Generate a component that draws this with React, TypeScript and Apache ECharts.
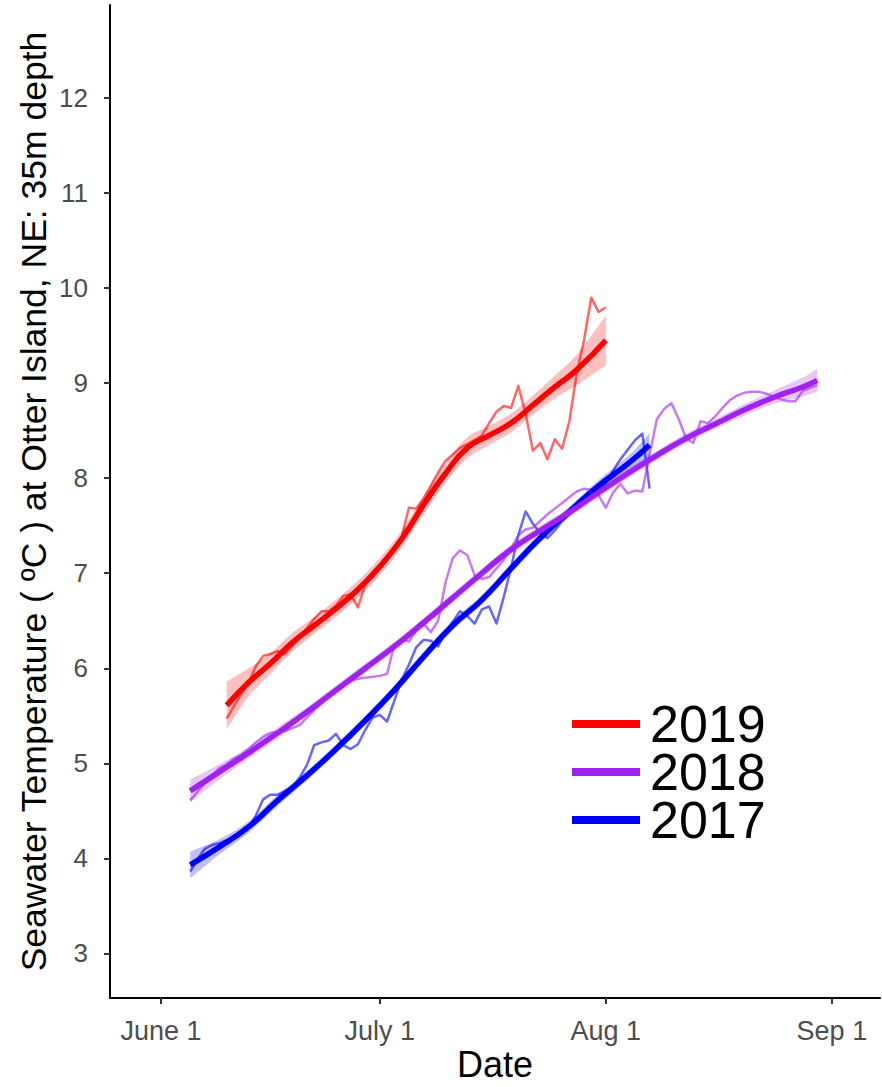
import React, { useEffect, useRef } from 'react';
import * as echarts from 'echarts';

// Day offsets are counted from June 1.
const tickDays = [0, 30, 61, 92];
const tickLabels = ['June 1', 'July 1', 'Aug 1', 'Sep 1'];
const tempTicks = [3, 4, 5, 6, 7, 8, 9, 10, 11, 12];

const years = ['2019', '2018', '2017'];
const yearColors = ['#FF0000', '#A020F0', '#0000FF'];

// Daily mean temperatures (first value is on the start day)
const raw2019Start = 9;
const raw2019 = [5.47, 5.60, 5.73, 5.85, 6.02, 6.13, 6.15, 6.18, 6.15, 6.24, 6.33, 6.42, 6.52, 6.60, 6.60, 6.66, 6.76, 6.78, 6.64, 6.88, 6.98, 7.08, 7.18, 7.28, 7.38, 7.69, 7.68, 7.78, 7.92, 8.06, 8.18, 8.25, 8.32, 8.36, 8.40, 8.45, 8.58, 8.70, 8.76, 8.74, 8.97, 8.68, 8.29, 8.37, 8.20, 8.41, 8.31, 8.60, 9.10, 9.45, 9.90, 9.75, 9.80];

const raw2018Start = 4;
const raw2018 = [4.61, 4.70, 4.79, 4.87, 4.95, 4.99, 5.05, 5.09, 5.15, 5.22, 5.28, 5.32, 5.33, 5.34, 5.37, 5.40, 5.48, 5.56, 5.63, 5.71, 5.76, 5.83, 5.87, 5.89, 5.90, 5.91, 5.92, 5.94, 6.25, 6.30, 6.28, 6.40, 6.47, 6.38, 6.50, 6.90, 7.16, 7.24, 7.19, 6.98, 6.94, 6.96, 7.05, 7.14, 7.26, 7.40, 7.46, 7.48, 7.55, 7.62, 7.68, 7.74, 7.80, 7.86, 7.89, 7.88, 7.82, 7.69, 7.85, 7.94, 7.84, 7.87, 7.86, 8.25, 8.62, 8.73, 8.79, 8.62, 8.42, 8.37, 8.60, 8.58, 8.65, 8.74, 8.82, 8.87, 8.90, 8.91, 8.91, 8.89, 8.86, 8.83, 8.81, 8.81, 8.92, 8.95, 8.98];

const raw2017Start = 4;
const raw2017 = [3.86, 3.99, 4.10, 4.14, 4.16, 4.19, 4.22, 4.26, 4.32, 4.45, 4.62, 4.67, 4.67, 4.71, 4.74, 4.85, 4.98, 5.19, 5.22, 5.24, 5.31, 5.19, 5.15, 5.20, 5.35, 5.48, 5.51, 5.44, 5.66, 5.88, 6.04, 6.22, 6.30, 6.29, 6.23, 6.38, 6.49, 6.60, 6.55, 6.47, 6.62, 6.65, 6.47, 6.75, 7.06, 7.40, 7.65, 7.52, 7.42, 7.37, 7.45, 7.55, 7.62, 7.68, 7.75, 7.80, 7.84, 7.95, 8.08, 8.20, 8.30, 8.40, 8.47, 7.89];

// Smoothed fits with confidence half-widths
const fitDays2019 = [9, 12, 15, 18, 21, 24, 27, 30, 33, 36, 39, 42, 45, 48, 51, 54, 57, 61];
const fit2019 = [5.61, 5.85, 6.05, 6.27, 6.45, 6.63, 6.83, 7.07, 7.36, 7.72, 8.05, 8.32, 8.45, 8.58, 8.77, 8.96, 9.14, 9.45];
const ci2019 = [0.25, 0.15, 0.11, 0.10, 0.09, 0.09, 0.09, 0.09, 0.09, 0.10, 0.10, 0.11, 0.10, 0.10, 0.10, 0.12, 0.16, 0.26];

const fitDays2018 = [4, 8, 12, 16, 20, 24, 28, 32, 36, 40, 44, 48, 52, 56, 60, 64, 68, 72, 76, 80, 84, 88, 90];
const fit2018 = [4.71, 4.91, 5.11, 5.32, 5.54, 5.77, 6.00, 6.23, 6.48, 6.74, 7.00, 7.25, 7.45, 7.64, 7.85, 8.05, 8.24, 8.42, 8.57, 8.72, 8.85, 8.96, 9.03];
const ci2018 = [0.12, 0.08, 0.06, 0.06, 0.05, 0.05, 0.05, 0.05, 0.05, 0.05, 0.05, 0.05, 0.05, 0.05, 0.05, 0.05, 0.05, 0.05, 0.05, 0.06, 0.07, 0.10, 0.12];

const fitDays2017 = [4, 8, 12, 16, 20, 24, 28, 32, 36, 40, 44, 48, 52, 56, 60, 64, 67];
const fit2017 = [3.93, 4.12, 4.33, 4.61, 4.87, 5.15, 5.45, 5.77, 6.12, 6.45, 6.72, 7.05, 7.37, 7.65, 7.92, 8.15, 8.35];
const ci2017 = [0.14, 0.08, 0.06, 0.06, 0.05, 0.05, 0.05, 0.05, 0.05, 0.05, 0.05, 0.05, 0.05, 0.05, 0.06, 0.08, 0.12];

const FONT = '"Liberation Sans", Arial, sans-serif';

function withAlpha(hex: string, a: number) {
  const n = parseInt(hex.slice(1), 16);
  return `rgba(${(n >> 16) & 255},${(n >> 8) & 255},${n & 255},${a})`;
}

// Cubic Bezier segments through pixel points (Catmull-Rom style tangents)
function curveSegments(pts: number[][]) {
  let d = '';
  for (let i = 0; i < pts.length - 1; i++) {
    const p0 = pts[i - 1] || pts[i];
    const p1 = pts[i];
    const p2 = pts[i + 1];
    const p3 = pts[i + 2] || p2;
    const c1x = p1[0] + (p2[0] - p0[0]) / 6;
    const c1y = p1[1] + (p2[1] - p0[1]) / 6;
    const c2x = p2[0] - (p3[0] - p1[0]) / 6;
    const c2y = p2[1] - (p3[1] - p1[1]) / 6;
    d += ` C${c1x},${c1y} ${c2x},${c2y} ${p2[0]},${p2[1]}`;
  }
  return d;
}

function rawSeries(name: string, start: number, values: number[], color: string) {
  return {
    type: 'line',
    name: name + ' daily',
    data: values.map((v, i) => [start + i, v]),
    symbol: 'none',
    silent: true,
    lineStyle: { color: withAlpha(color, 0.6), width: 2.5, cap: 'butt', join: 'round' },
    itemStyle: { color },
  };
}

// Confidence ribbon drawn as one closed path through the axis scales
function bandSeries(name: string, days: number[], fit: number[], ci: number[], color: string) {
  const upper = days.map((d, i) => [d, fit[i] + ci[i]]);
  const lower = days.map((d, i) => [d, fit[i] - ci[i]]);
  return {
    type: 'custom',
    name: name + ' band',
    silent: true,
    data: days.map((d, i) => [d, fit[i] - ci[i], fit[i] + ci[i]]),
    encode: { x: 0, y: [1, 2] },
    renderItem: (params: any, api: any) => {
      if (params.dataIndex !== 0) return { type: 'group', children: [] };
      const top = upper.map((p) => api.coord(p));
      const bottom = lower.map((p) => api.coord(p)).reverse();
      const pathData =
        `M${top[0][0]},${top[0][1]}` +
        curveSegments(top) +
        ` L${bottom[0][0]},${bottom[0][1]}` +
        curveSegments(bottom) +
        ' Z';
      return {
        type: 'path',
        shape: { pathData },
        style: { fill: withAlpha(color, 0.25), stroke: 'none' },
      };
    },
  };
}

function fitSeries(name: string, days: number[], fit: number[], color: string) {
  return {
    type: 'line',
    name,
    data: days.map((d, i) => [d, fit[i]]),
    symbol: 'none',
    smooth: 0.5,
    silent: true,
    color,
    lineStyle: { color, width: 5.5, cap: 'butt' },
    itemStyle: { color },
  };
}

export default function App() {
  const ref = useRef<HTMLDivElement>(null);

  useEffect(() => {
    if (!ref.current) return;
    const chart = echarts.init(ref.current, undefined, { renderer: 'svg' });
    const [c19, c18, c17] = yearColors;

    const option = {
      animation: false,
      backgroundColor: '#ffffff',
      textStyle: { fontFamily: FONT },
      grid: { left: 110, right: 2, top: 5, bottom: 80, containLabel: false },
      legend: {
        orient: 'vertical',
        left: 572,
        top: 698,
        padding: 0,
        icon: 'rect',
        itemWidth: 68,
        itemHeight: 8,
        itemGap: -4,
        selectedMode: false,
        data: years.map((y, i) => ({ name: y, itemStyle: { color: yearColors[i] } })),
        textStyle: { fontSize: 52, color: '#000', fontFamily: FONT, padding: [0, 0, 0, 5] },
      },
      xAxis: {
        type: 'value',
        min: -7.0,
        max: 98.6,
        name: 'Date',
        nameLocation: 'middle',
        nameGap: 48,
        nameMoveOverlap: false,
        nameTextStyle: { fontSize: 36, color: '#000', fontFamily: FONT },
        splitLine: { show: false },
        axisLine: { show: true, onZero: false, lineStyle: { color: '#000', width: 2 } },
        axisTick: { show: true, length: 6, customValues: tickDays, lineStyle: { color: '#333', width: 2 } },
        axisLabel: {
          customValues: tickDays,
          fontSize: 27,
          color: '#4D4D4D',
          margin: 19,
          fontFamily: FONT,
          formatter: (v: number) => tickLabels[tickDays.indexOf(Math.round(v))] ?? '',
        },
      },
      yAxis: {
        type: 'value',
        min: 2.53,
        max: 12.98,
        name: 'Seawater Temperature ( ºC ) at Otter Island, NE: 35m depth',
        nameLocation: 'middle',
        nameGap: 58,
        nameMoveOverlap: false,
        nameTextStyle: { fontSize: 35.5, color: '#000', fontFamily: FONT },
        splitLine: { show: false },
        axisLine: { show: true, onZero: false, lineStyle: { color: '#000', width: 2 } },
        axisTick: { show: true, length: 6, customValues: tempTicks, lineStyle: { color: '#333', width: 2 } },
        axisLabel: {
          customValues: tempTicks,
          fontSize: 26,
          color: '#4D4D4D',
          margin: 22,
          fontFamily: FONT,
        },
      },
      series: [
        rawSeries('2017', raw2017Start, raw2017, c17),
        rawSeries('2018', raw2018Start, raw2018, c18),
        rawSeries('2019', raw2019Start, raw2019, c19),
        bandSeries('2017', fitDays2017, fit2017, ci2017, c17),
        fitSeries('2017', fitDays2017, fit2017, c17),
        bandSeries('2018', fitDays2018, fit2018, ci2018, c18),
        fitSeries('2018', fitDays2018, fit2018, c18),
        bandSeries('2019', fitDays2019, fit2019, ci2019, c19),
        fitSeries('2019', fitDays2019, fit2019, c19),
      ],
    };

    chart.setOption(option as any);
    return () => chart.dispose();
  }, []);

  return (
    <div
      ref={ref}
      style={{ position: 'absolute', left: 0, top: 0, width: 882, height: 1087, background: '#fff' }}
    />
  );
}
